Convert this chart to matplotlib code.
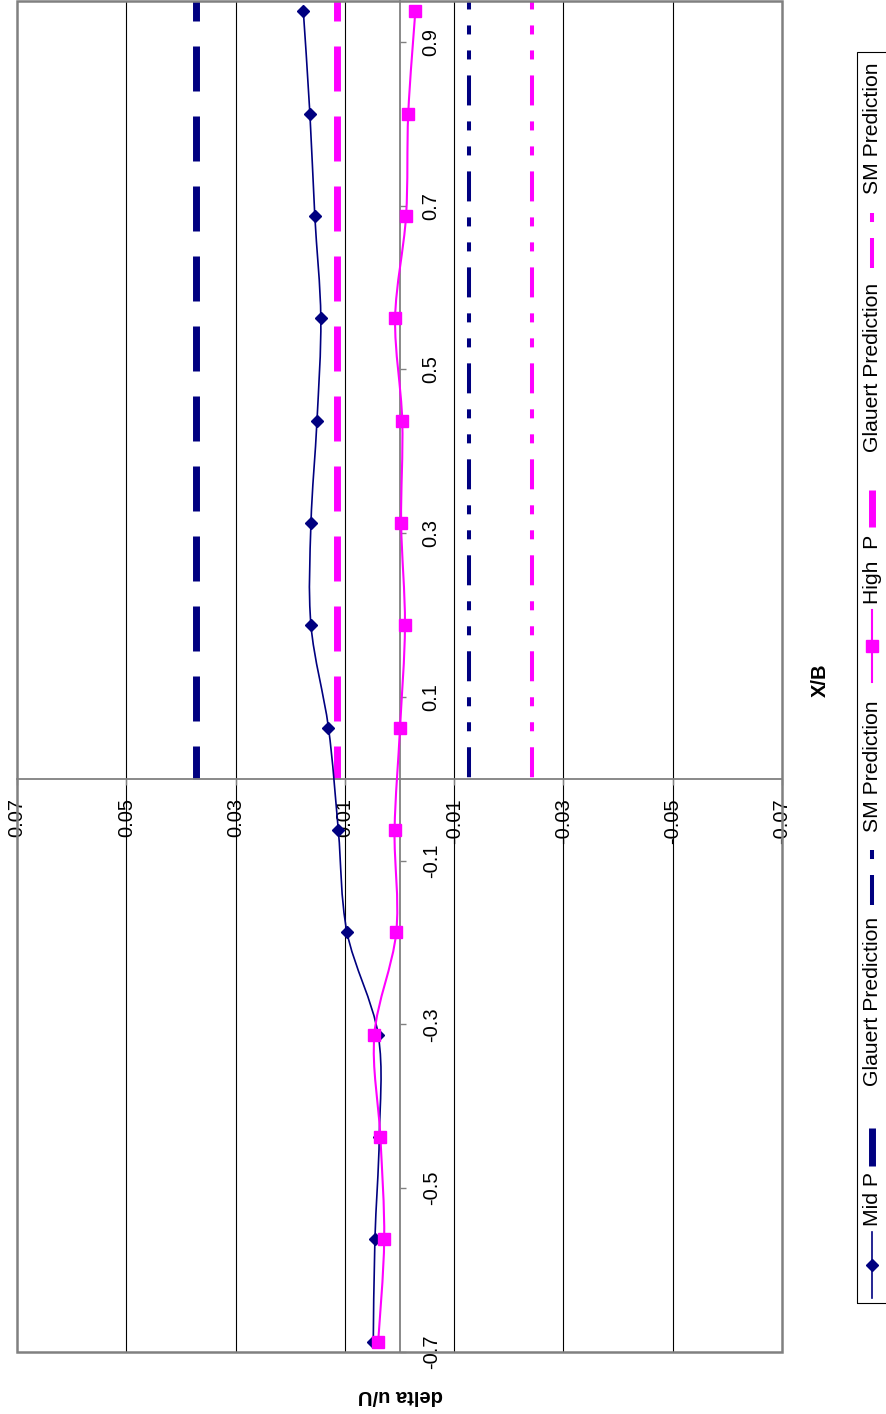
import numpy as np
import matplotlib
matplotlib.use("Agg")
import matplotlib.pyplot as plt
from matplotlib.path import Path
from matplotlib.patches import PathPatch, Rectangle
from matplotlib.lines import Line2D

plt.rcParams["font.family"] = ["Liberation Sans", "DejaVu Sans"]
plt.rcParams["lines.scale_dashes"] = False

# X/B stations and measured delta u/U
xb = [-0.6875, -0.5625, -0.4375, -0.3125, -0.1875, -0.0625, 0.0625,
      0.1875, 0.3125, 0.4375, 0.5625, 0.6875, 0.8125, 0.9375]
mid_p = [0.0048, 0.0045, 0.0037, 0.0039, 0.0096, 0.0112, 0.0130,
         0.0162, 0.0162, 0.0151, 0.0144, 0.0155, 0.0164, 0.0176]
high_p = [0.0039, 0.0028, 0.0035, 0.0046, 0.0006, 0.0009, -0.0001,
          -0.0010, -0.0003, -0.0005, 0.0008, -0.0012, -0.0016, -0.0029]

# constant predictions, drawn over X/B >= 0
glauert_mid = 0.0373
sm_mid = -0.0128
glauert_high = 0.0115
sm_high = -0.0242
pred_xb = [0.95, 0.0]

delta_ticks = [0.07, 0.05, 0.03, 0.01, -0.01, -0.03, -0.05, -0.07]
delta_labels = ["0.07", "0.05", "0.03", "0.01", "-0.01", "-0.03", "-0.05", "-0.07"]
xb_ticks = [-0.7, -0.5, -0.3, -0.1, 0.1, 0.3, 0.5, 0.7, 0.9]
xb_labels = ["-0.7", "-0.5", "-0.3", "-0.1", "0.1", "0.3", "0.5", "0.7", "0.9"]

legend_names = ["Mid P", "Glauert Prediction", "SM Prediction",
                "High  P", "Glauert Prediction", "SM Prediction"]

NAVY = "#000080"
PINK = "#FF00FF"
GREY = "#808080"
FS = 14.5
LEG_FS = 15.2
W, H = 887, 1414

GLAUERT_LS = (18, (32.4, 18))
SM_LS = (15.5, (21.6, 11.5, 6.5, 11.5, 6.5, 11.5))


def smooth_path(xs, ys):
    # Catmull-Rom style bezier through the points (Excel "smoothed line")
    pts = np.column_stack([xs, ys]).astype(float)
    n = len(pts)
    verts = [pts[0]]
    codes = [Path.MOVETO]
    for i in range(n - 1):
        p0 = pts[max(i - 1, 0)]
        p1 = pts[i]
        p2 = pts[i + 1]
        p3 = pts[min(i + 2, n - 1)]
        verts += [p1 + (p2 - p0) / 6, p2 - (p3 - p1) / 6, p2]
        codes += [Path.CURVE4] * 3
    return Path(verts, codes)


def fxy(x, y):
    return x / W, 1 - y / H


fig = plt.figure(figsize=(W / 100, H / 100), dpi=100)
x0, y0 = fxy(17, 1352)
x1, y1 = fxy(782, 1)
ax = fig.add_axes([x0, y0, x1 - x0, y1 - y0])
ax.set_xlim(0.07, -0.07)
ax.set_ylim(-0.7, 0.95)

# gridlines (vertical on the page)
for v in delta_ticks[1:-1]:
    ax.axvline(v, color="black", lw=0.8, zorder=1)

# predictions
ax.plot([glauert_mid] * 2, pred_xb, color=NAVY, lw=5, ls=GLAUERT_LS, zorder=2)
ax.plot([sm_mid] * 2, pred_xb, color=NAVY, lw=2.9, ls=SM_LS, zorder=2)
ax.plot([glauert_high] * 2, pred_xb, color=PINK, lw=5, ls=GLAUERT_LS, zorder=2)
ax.plot([sm_high] * 2, pred_xb, color=PINK, lw=2.9, ls=SM_LS, zorder=2)

# measured series
ax.add_patch(PathPatch(smooth_path(mid_p, xb), fill=False, ec=NAVY, lw=1.2, zorder=4))
ax.plot(mid_p, xb, ls="none", marker="D", ms=6.2, color=NAVY, zorder=5)
ax.add_patch(PathPatch(smooth_path(high_p, xb), fill=False, ec=PINK, lw=1.5, zorder=4))
ax.plot(high_p, xb, ls="none", marker="s", ms=8.5, color=PINK, zorder=5)

# axes through the origin
for s in ["left", "top"]:
    ax.spines[s].set_visible(False)
ax.spines["bottom"].set_position(("data", 0))
ax.spines["bottom"].set_color(GREY)
ax.spines["bottom"].set_linewidth(1.3)
ax.spines["right"].set_position(("data", 0))
ax.spines["right"].set_color(GREY)
ax.spines["right"].set_linewidth(1.3)
ax.yaxis.tick_right()

ax.set_xticks(delta_ticks)
ax.set_xticklabels(delta_labels, rotation=90, fontsize=FS, ha="center", va="top")
ax.set_yticks(xb_ticks)
ax.set_yticklabels(xb_labels, rotation=90, fontsize=FS, ha="left", va="center")
ax.tick_params(axis="x", direction="out", length=4, width=1, color=GREY, pad=10)
ax.tick_params(axis="y", direction="out", length=4, width=1, color=GREY, pad=12)

ax.add_patch(Rectangle((0, 0), 1, 1, transform=ax.transAxes, fill=False,
                       ec=GREY, lw=1.8, clip_on=False, zorder=6))

# axis titles
fig.text(*fxy(820, 680), "X/B", rotation=90, fontsize=FS, fontweight="bold",
         ha="center", va="center")
fig.text(*fxy(400, 1395), "delta u/U", rotation=180, fontsize=FS, fontweight="bold",
         ha="center", va="center")

# legend, rotated with the page
lx0, ly0 = fxy(857, 1303)
lx1, ly1 = fxy(900, 52)
fig.patches.append(Rectangle((lx0, ly0), lx1 - lx0, ly1 - ly0, transform=fig.transFigure,
                             fill=False, ec="black", lw=0.8, figure=fig))

cx = 872
# (handle bottom, handle top, text start) in page pixels
slots = [(1298, 1232, 1226), (1166, 1128, 1086), (905, 838, 832),
         (682, 610, 604), (527, 490, 452), (268, 200, 194)]
styles = [dict(color=NAVY, lw=1.2, marker="D", ms=6.2),
          dict(color=NAVY, lw=5, solid_capstyle="butt"),
          dict(color=NAVY, lw=2.9, ls=(0, (21.6, 11.5, 6.5, 11.5, 6.5, 11.5))),
          dict(color=PINK, lw=1.5, marker="s", ms=8.5),
          dict(color=PINK, lw=5, solid_capstyle="butt"),
          dict(color=PINK, lw=2.9, ls=(0, (21.6, 11.5, 6.5, 11.5, 6.5, 11.5)))]
for name, (hb, ht, ts), st in zip(legend_names, slots, styles):
    a = fxy(cx, hb)
    b = fxy(cx, ht)
    mk = st.pop("marker", None)
    ms = st.pop("ms", None)
    fig.lines.append(Line2D([a[0], b[0]], [a[1], b[1]], transform=fig.transFigure,
                            figure=fig, **st))
    if mk:
        m = fxy(cx, (hb + ht) / 2)
        fig.lines.append(Line2D([m[0]], [m[1]], transform=fig.transFigure, figure=fig,
                                ls="none", marker=mk, ms=ms, color=st["color"]))
    fig.text(*fxy(cx + 1, ts), name, rotation=90, fontsize=LEG_FS, ha="center", va="bottom")

fig.savefig("out.png", dpi=100)
